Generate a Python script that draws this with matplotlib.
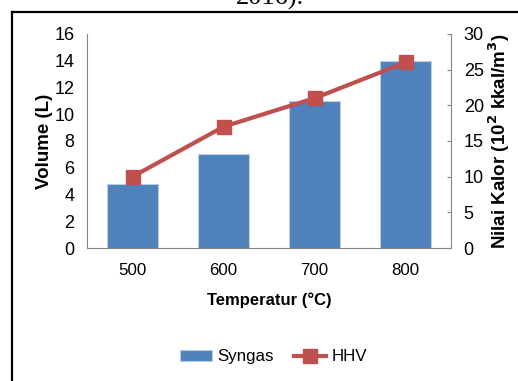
import matplotlib.pyplot as plt
from matplotlib.lines import Line2D
import numpy as np

plt.rcParams['font.family'] = ['Liberation Sans', 'DejaVu Sans']

# data: syngas volume and heating value per gasification temperature
temperatures = ["500", "600", "700", "800"]
syngas_volume = [4.8, 7.0, 11.0, 14.0]
hhv = [10.0, 17.0, 21.0, 26.0]

blue = "#4F81BD"
red = "#C0504D"
grey = "#868686"

fig = plt.figure(figsize=(5.18, 3.81), dpi=100)
ax = fig.add_axes([0.168, 0.349, 0.703, 0.562])
x = np.arange(len(temperatures))

bars = ax.bar(x, syngas_volume, width=0.56, color=blue, edgecolor="#B9CDE5",
              linewidth=0.8, label="Syngas", zorder=2)
ax.set_xlim(-0.5, 3.5)
ax.set_ylim(0, 16)
ax.set_yticks(range(0, 17, 2))
ax.set_xticks(x)
ax.set_xticklabels(temperatures)
ax.tick_params(axis="y", length=0, pad=9, labelsize=13)
ax.tick_params(axis="x", length=0, pad=11, labelsize=12.2)
ax.set_ylabel("Volume (L)", fontsize=13.5, fontweight="bold", labelpad=1)
ax.set_xlabel("Temperatur (°C)", fontsize=12, fontweight="bold", labelpad=10)
for s in ["top", "right"]:
    ax.spines[s].set_visible(False)
for s in ["left", "bottom"]:
    ax.spines[s].set_color(grey)
    ax.spines[s].set_linewidth(0.8)

# secondary axis for the heating value
ax2 = ax.twinx()
line, = ax2.plot(x, hhv, color=red, linewidth=3, marker="s", markersize=9.5,
                 markerfacecolor=red, markeredgecolor=red, label="HHV", zorder=3)
ax2.set_ylim(0, 30)
ax2.set_yticks(range(0, 31, 5))
ax2.tick_params(axis="y", direction="in", length=3, color=grey, pad=9, labelsize=13)
ax2.set_ylabel("Nilai Kalor (10$^{\\mathbf{2}}$ kkal/m$^{\\mathbf{3}}$)",
               fontsize=13.5, fontweight="bold", labelpad=2)
for s in ["top", "left", "bottom"]:
    ax2.spines[s].set_visible(False)
ax2.spines["right"].set_color(grey)
ax2.spines["right"].set_linewidth(0.8)

fig.legend([bars, line], ["Syngas", "HHV"], loc="center", ncol=2,
           bbox_to_anchor=(0.528, 0.063), frameon=False, fontsize=12.2,
           handlelength=1.9, handleheight=0.6, handletextpad=0.3, columnspacing=1.2)

# page frame and caption fragment above the figure
fig.add_artist(Line2D([11.5 / 518, 11.5 / 518], [0, 1 - 12 / 381], color="black", lw=1.6))
fig.add_artist(Line2D([11.5 / 518, 1], [1 - 12 / 381, 1 - 12 / 381], color="black", lw=1.6))
fig.text(270 / 518, 1 - 5 / 381, "2016).", family="Liberation Serif", fontsize=19,
         ha="center", va="baseline")

fig.savefig("out.png", dpi=100)
